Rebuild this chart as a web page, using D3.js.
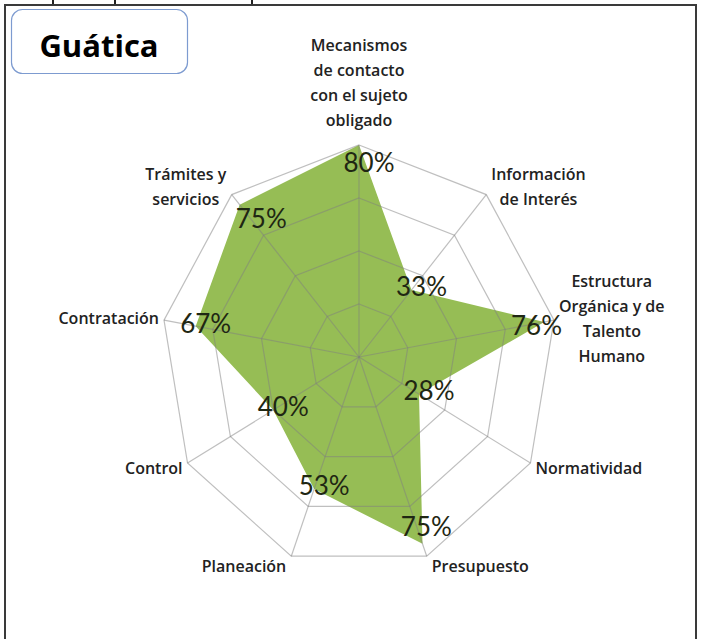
<!DOCTYPE html>
<html>
<head>
<meta charset="utf-8">
<script src="https://cdn.jsdelivr.net/npm/d3@7"></script>
<style>
  body { margin: 0; background: #fff; }
  svg { display: block; }
</style>
</head>
<body>
<div id="chart"></div>
<script>
// --- data ---
var title = "Guática";
var categories = [
  ["Mecanismos", "de contacto", "con el sujeto", "obligado"],
  ["Información", "de Interés"],
  ["Estructura", "Orgánica y de", "Talento", "Humano"],
  ["Normatividad"],
  ["Presupuesto"],
  ["Planeación"],
  ["Control"],
  ["Contratación"],
  ["Trámites y", "servicios"],
];
var values = [0.8, 0.33, 0.76, 0.28, 0.75, 0.53, 0.4, 0.67, 0.75];
var ringLevels = [0.2, 0.4, 0.6, 0.8];

function translate(x, y) {
  return "translate(" + x + ", " + y + ")";
}

var W = 701,
  H = 639;
var svg = d3
  .select("#chart")
  .append("svg")
  .attr("width", W)
  .attr("height", H);

// --- frame of the slide ---
svg
  .append("rect")
  .attr("x", 5)
  .attr("y", 5)
  .attr("width", 691)
  .attr("height", 650)
  .attr("fill", "none")
  .attr("stroke", "#3a3a3a")
  .attr("stroke-width", 2);

// bits of the cut text above the frame
[53, 115, 252].forEach(function (x) {
  svg
    .append("line")
    .attr("x1", x)
    .attr("x2", x)
    .attr("y1", 0)
    .attr("y2", 4)
    .attr("stroke", "#222")
    .attr("stroke-width", 2);
});

// --- title box ---
svg
  .append("rect")
  .attr("x", 11.5)
  .attr("y", 9.5)
  .attr("width", 176)
  .attr("height", 64)
  .attr("rx", 11)
  .attr("fill", "#fff")
  .attr("stroke", "#7d9bd0")
  .attr("stroke-width", 1.2);

svg
  .append("text")
  .attr("x", 99)
  .attr("y", 57)
  .attr("text-anchor", "middle")
  .attr("font-family", "'Open Sans', sans-serif")
  .attr("font-weight", 700)
  .attr("font-size", "31px")
  .attr("fill", "#000")
  .text(title);

// --- radar geometry (picture is a bit squeezed horizontally) ---
var cx = 359,
  cy = 357;
var rX = d3.scaleLinear().domain([0, 0.8]).range([0, 198]);
var rY = d3.scaleLinear().domain([0, 0.8]).range([0, 212]);
var n = categories.length;
var angle = d3
  .scaleLinear()
  .domain([0, n])
  .range([0, 2 * Math.PI]);

function point(v, i) {
  var a = angle(i);
  return [cx + rX(v) * Math.sin(a), cy - rY(v) * Math.cos(a)];
}

var g = svg.append("g");

// --- filled series ---
g.append("polygon")
  .attr(
    "points",
    values
      .map(function (v, i) {
        return point(v, i).join(",");
      })
      .join(" ")
  )
  .attr("fill", "#96bd55");

// --- rings and spokes, over the fill ---
ringLevels.forEach(function (lv) {
  g.append("polygon")
    .attr(
      "points",
      d3
        .range(n)
        .map(function (i) {
          return point(lv, i).join(",");
        })
        .join(" ")
    )
    .attr("fill", "none")
    .attr("stroke", "#808080")
    .attr("stroke-opacity", 0.5)
    .attr("stroke-width", 1.2);
});

var maxLv = d3.max(ringLevels);
d3.range(n).forEach(function (i) {
  var p = point(maxLv, i);
  g.append("line")
    .attr("x1", cx)
    .attr("y1", cy)
    .attr("x2", p[0])
    .attr("y2", p[1])
    .attr("stroke", "#808080")
    .attr("stroke-opacity", 0.5)
    .attr("stroke-width", 1.2);
});

// --- data labels ---
values.forEach(function (v, i) {
  var p = point(v, i);
  var a = angle(i);
  var x = p[0] + 10,
    y = p[1];
  // labels near the outer ring get pulled inside
  if (v >= 0.75) {
    x -= Math.sin(a) * 18;
    y += Math.cos(a) * 18;
  } else {
    y -= 3;
  }
  g.append("text")
    .attr("x", x)
    .attr("y", y)
    .attr("dy", "0.36em")
    .attr("text-anchor", "middle")
    .attr("font-family", "Lato, sans-serif")
    .attr("font-size", "26px")
    .attr("fill", "#1f2713")
    .text(Math.round(v * 100) + "%");
});

// --- category labels ---
var lineH = 25;
categories.forEach(function (lines, i) {
  var p = point(maxLv, i);
  var a = angle(i);
  var lab = g.append("g");
  var t = lab
    .append("text")
    .attr("text-anchor", "middle")
    .attr("font-family", "'Open Sans', sans-serif")
    .attr("font-weight", 600)
    .attr("font-size", "16px")
    .attr("fill", "#222");
  lines.forEach(function (s, k) {
    t.append("tspan")
      .attr("x", 0)
      .attr("y", k * lineH)
      .text(s);
  });
  var bb = t.node().getBBox();
  var tx, ty;
  if (i == 0) {
    // top: block sits above the vertex
    tx = p[0] - (bb.x + bb.width / 2);
    ty = p[1] - 14 - (bb.y + bb.height);
  } else {
    var sx = Math.sin(a);
    if (sx > 0) {
      tx = p[0] + 5 - bb.x;
    } else {
      tx = p[0] - 5 - (bb.x + bb.width);
    }
    var yc = p[1] - Math.cos(a) * 10;
    ty = yc - (bb.y + bb.height / 2);
  }
  lab.attr("transform", translate(tx, ty));
});
</script>
</body>
</html>
